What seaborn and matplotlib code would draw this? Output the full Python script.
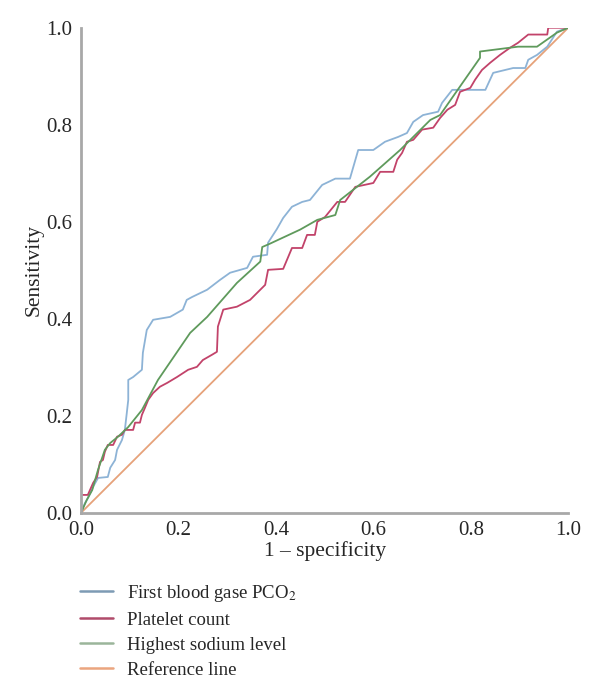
#!/usr/bin/env python3
"""ROC curves - PCO2 / platelet / sodium"""

import pandas as pd
import matplotlib.pyplot as plt
import seaborn as sns

# data
pco2_x = [0, 0.008, 0.014, 0.025, 0.035, 0.055, 0.06, 0.07, 0.074, 0.084, 0.09, 0.094, 0.097, 0.097,
          0.107, 0.125, 0.127, 0.135, 0.148, 0.183, 0.209, 0.217, 0.228, 0.259, 0.285, 0.306, 0.341,
          0.353, 0.382, 0.384, 0.402, 0.415, 0.433, 0.454, 0.47, 0.495, 0.522, 0.552, 0.569, 0.6,
          0.624, 0.651, 0.669, 0.682, 0.702, 0.733, 0.741, 0.762, 0.83, 0.846, 0.887, 0.912, 0.918,
          0.936, 0.957, 0.977, 1.0]
pco2_y = [0, 0.02, 0.03, 0.054, 0.072, 0.074, 0.093, 0.109, 0.13, 0.15, 0.171, 0.206, 0.233, 0.274,
          0.28, 0.295, 0.33, 0.377, 0.398, 0.404, 0.419, 0.439, 0.445, 0.46, 0.48, 0.495, 0.505,
          0.528, 0.532, 0.557, 0.585, 0.608, 0.631, 0.641, 0.645, 0.676, 0.689, 0.689, 0.748, 0.748,
          0.765, 0.775, 0.783, 0.806, 0.82, 0.827, 0.845, 0.872, 0.872, 0.907, 0.917, 0.917, 0.934,
          0.944, 0.961, 0.992, 1.0]

plt_x = [0, 0, 0.014, 0.025, 0.033, 0.039, 0.045, 0.049, 0.055, 0.066, 0.074, 0.084, 0.09, 0.107,
         0.111, 0.121, 0.125, 0.131, 0.138, 0.148, 0.162, 0.177, 0.197, 0.22, 0.238, 0.25, 0.269,
         0.279, 0.281, 0.292, 0.32, 0.347, 0.378, 0.384, 0.415, 0.433, 0.454, 0.464, 0.48, 0.485,
         0.501, 0.526, 0.542, 0.563, 0.6, 0.614, 0.641, 0.649, 0.659, 0.669, 0.682, 0.7, 0.723,
         0.737, 0.752, 0.768, 0.778, 0.799, 0.809, 0.823, 0.84, 0.86, 0.881, 0.897, 0.918, 0.957,
         0.959, 1.0]
plt_y = [0, 0.037, 0.037, 0.062, 0.074, 0.105, 0.109, 0.126, 0.14, 0.14, 0.157, 0.161, 0.171, 0.171,
         0.186, 0.186, 0.202, 0.216, 0.233, 0.247, 0.26, 0.268, 0.28, 0.295, 0.301, 0.315, 0.326,
         0.332, 0.384, 0.419, 0.425, 0.439, 0.47, 0.501, 0.503, 0.546, 0.546, 0.573, 0.573, 0.6,
         0.61, 0.641, 0.641, 0.672, 0.68, 0.703, 0.703, 0.728, 0.742, 0.765, 0.769, 0.79, 0.794,
         0.814, 0.831, 0.841, 0.868, 0.876, 0.893, 0.913, 0.928, 0.944, 0.959, 0.969, 0.986, 0.986,
         1.0, 1.0]

na_x = [0, 0.012, 0.023, 0.035, 0.049, 0.06, 0.076, 0.097, 0.125, 0.158, 0.224, 0.259, 0.32, 0.368,
        0.372, 0.388, 0.45, 0.485, 0.522, 0.532, 0.593, 0.655, 0.717, 0.737, 0.819, 0.819, 0.897,
        0.936, 0.977, 1.0]
na_y = [0, 0.027, 0.047, 0.089, 0.13, 0.144, 0.157, 0.177, 0.212, 0.274, 0.371, 0.404, 0.474, 0.518,
        0.548, 0.555, 0.584, 0.604, 0.614, 0.645, 0.693, 0.748, 0.81, 0.82, 0.938, 0.951, 0.961,
        0.961, 0.99, 1.0]

ref_x = [0, 1]
ref_y = [0, 1]

labels = ['First blood gase PCO$_2$', 'Platelet count', 'Highest sodium level', 'Reference line']
colors = ['#8db3d6', '#c2436a', '#5f9a5c', '#e6a27a']
legend_colors = ['#7d9bb4', '#b04b6a', '#9bb59a', '#eba57f']

sns.set_style('white')
plt.rcParams['font.family'] = ['Liberation Serif', 'DejaVu Serif']
plt.rcParams['mathtext.fontset'] = 'stix'

fig = plt.figure(figsize=(6, 6.94), dpi=100)
ax = fig.add_axes([0.135, 0.261, 0.812, 0.699])

series = [(pco2_x, pco2_y), (plt_x, plt_y), (na_x, na_y), (ref_x, ref_y)]
# reference line drawn first, underneath
order = [3, 0, 1, 2]
for i in order:
    xs, ys = series[i]
    df = pd.DataFrame({'x': xs, 'y': ys})
    sns.lineplot(data=df, x='x', y='y', sort=False, estimator=None, color=colors[i],
                 linewidth=1.3, ax=ax)

ax.set_xlim(0, 1)
ax.set_ylim(0, 1)
ax.set_xticks([0, 0.2, 0.4, 0.6, 0.8, 1.0])
ax.set_yticks([0, 0.2, 0.4, 0.6, 0.8, 1.0])
ax.set_xticklabels(['0.0', '0.2', '0.4', '0.6', '0.8', '1.0'])
ax.set_yticklabels(['0.0', '0.2', '0.4', '0.6', '0.8', '1.0'])
ax.tick_params(axis='x', length=0, labelsize=15, pad=6)
ax.tick_params(axis='y', length=0, labelsize=15, pad=6)
ax.set_xlabel('1 – specificity', fontsize=15.5, labelpad=1)
ax.set_ylabel('Sensitivity', fontsize=15.5, labelpad=2)

for side in ['top', 'right']:
    ax.spines[side].set_visible(False)
for side in ['left', 'bottom']:
    ax.spines[side].set_color('#a8a8a8')
    ax.spines[side].set_linewidth(2)
    ax.spines[side].set_clip_on(False)

handles = [plt.Line2D([], [], color=c, linewidth=1.8) for c in legend_colors]
fig.legend(handles, labels, loc='upper left', bbox_to_anchor=(0.133, 0.160),
           bbox_transform=fig.transFigure, frameon=False, fontsize=13.5,
           borderpad=0, borderaxespad=0,
           handlelength=1.76, handletextpad=0.75, labelspacing=0.42)

plt.savefig('out.png', dpi=100)
plt.close()
